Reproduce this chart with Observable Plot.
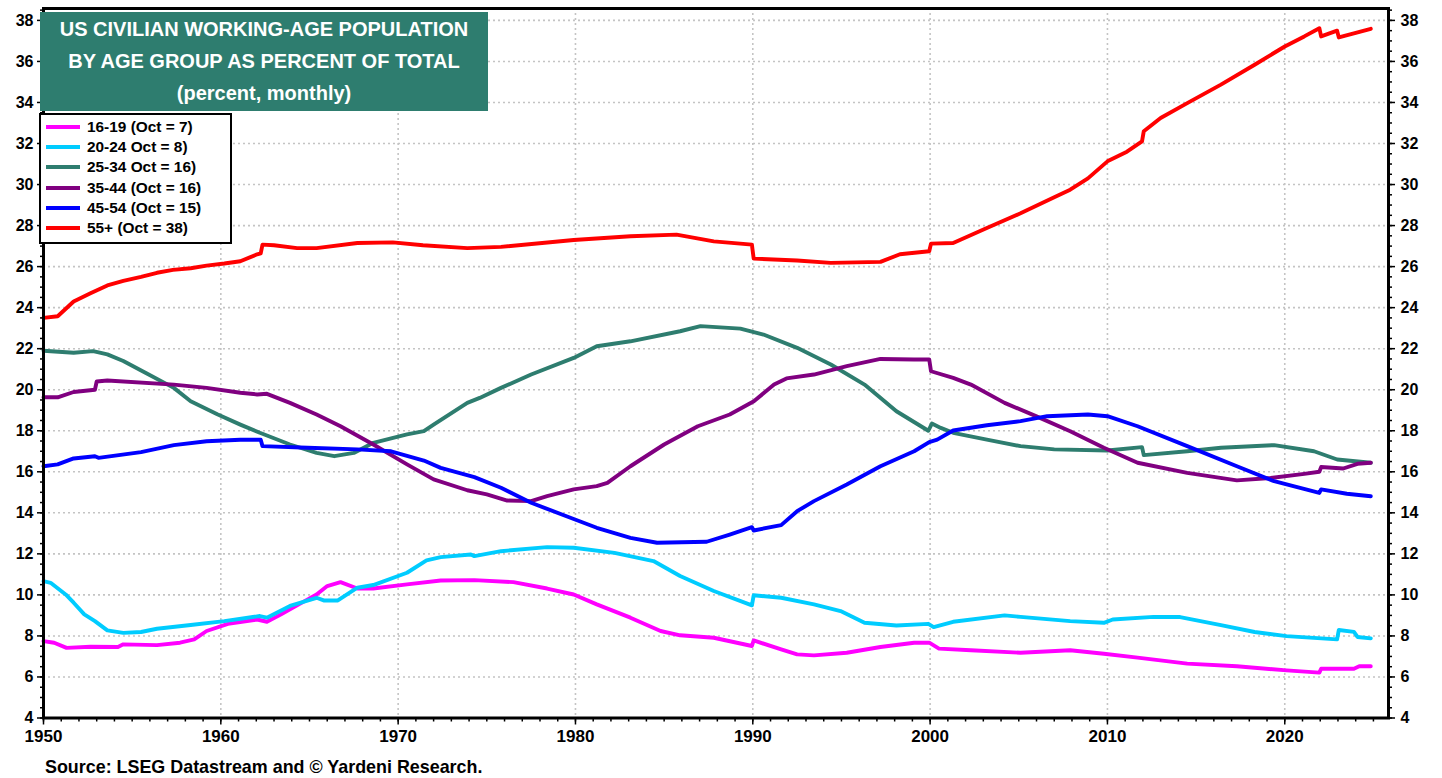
<!DOCTYPE html>
<html><head><meta charset="utf-8">
<script src="https://cdn.jsdelivr.net/npm/d3@7"></script>
<script src="https://cdn.jsdelivr.net/npm/@observablehq/plot@0.6"></script>
<style>
html,body{margin:0;padding:0;background:#fff;}
#wrap{position:relative;width:1442px;height:778px;font-family:"Liberation Sans",Arial,sans-serif;font-weight:bold;color:#000;}
#chart{position:absolute;left:0;top:0;}
#title{position:absolute;left:40px;top:12px;width:448px;height:99px;background:#2E7D6F;color:#fff;text-align:center;font-size:20px;line-height:32px;padding-top:1px;box-sizing:border-box;}
#legend{position:absolute;left:39px;top:113px;width:193px;height:131px;border:2px solid #000;background:#fff;box-sizing:border-box;}
.row{position:absolute;left:0;height:20px;width:190px;}
.sw{position:absolute;left:5px;top:8px;width:34px;height:4px;}
.lab{position:absolute;left:46px;top:0;line-height:20px;font-size:15.4px;white-space:nowrap;}
#source{position:absolute;left:45px;top:756px;font-size:17.9px;line-height:22px;white-space:nowrap;}
</style></head>
<body>
<div id="wrap">
  <div id="chart"></div>
  <div id="title">US CIVILIAN WORKING-AGE POPULATION<br>BY AGE GROUP AS PERCENT OF TOTAL<br>(percent, monthly)</div>
  <div id="legend"></div>
  <div id="source">Source: LSEG Datastream and © Yardeni Research.</div>
</div>
<script>
// ---- series (year, percent) ----
const s1619 = [[1950.0,7.75],[1950.6,7.67],[1951.3,7.42],[1952.65,7.47],[1954.2,7.46],[1954.5,7.59],[1956.4,7.55],[1957.7,7.67],[1958.5,7.83],[1959.2,8.24],[1960.4,8.59],[1962.05,8.8],[1962.6,8.69],[1963.4,9.05],[1964.9,9.78],[1965.4,10.02],[1966.0,10.43],[1966.75,10.62],[1967.7,10.31],[1968.6,10.31],[1970.5,10.51],[1972.4,10.7],[1974.3,10.72],[1976.5,10.62],[1978.4,10.31],[1979.9,10.02],[1981.2,9.54],[1983.1,8.89],[1984.8,8.24],[1985.9,8.03],[1987.8,7.91],[1989.95,7.51],[1990.05,7.78],[1991.6,7.34],[1992.5,7.1],[1993.45,7.05],[1995.3,7.18],[1997.2,7.46],[1999.1,7.67],[1999.95,7.67],[2000.5,7.38],[2002.3,7.3],[2005.1,7.18],[2007.9,7.3],[2009.8,7.13],[2011.7,6.94],[2014.5,6.65],[2017.3,6.52],[2020.1,6.32],[2021.95,6.21],[2022.05,6.4],[2023.9,6.4],[2024.2,6.52],[2024.85,6.52]];
const s2024 = [[1950.0,10.67],[1950.4,10.59],[1951.25,10.02],[1951.7,9.62],[1952.3,9.05],[1952.9,8.72],[1953.6,8.27],[1954.5,8.15],[1955.5,8.19],[1956.4,8.35],[1958.3,8.53],[1960.2,8.72],[1962.2,8.97],[1962.6,8.89],[1963.9,9.46],[1965.4,9.86],[1965.8,9.73],[1966.6,9.73],[1967.7,10.35],[1968.6,10.48],[1970.5,11.08],[1971.6,11.68],[1972.4,11.84],[1974.1,11.97],[1974.3,11.89],[1975.8,12.13],[1978.4,12.33],[1979.9,12.3],[1982.2,12.05],[1984.4,11.65],[1985.9,10.92],[1987.8,10.19],[1989.95,9.49],[1990.05,9.98],[1991.6,9.86],[1993.45,9.54],[1994.95,9.21],[1996.3,8.64],[1998.1,8.51],[1999.9,8.59],[2000.2,8.43],[2001.3,8.69],[2004.2,9.0],[2005.1,8.93],[2007.9,8.72],[2009.8,8.64],[2010.3,8.8],[2012.6,8.93],[2014.1,8.92],[2016.4,8.53],[2018.3,8.19],[2020.1,7.99],[2022.95,7.83],[2023.05,8.29],[2023.9,8.2],[2024.1,7.95],[2024.85,7.88]];
const s2534 = [[1950.0,21.9],[1951.7,21.8],[1952.8,21.88],[1953.6,21.72],[1954.5,21.4],[1955.8,20.8],[1957.35,20.09],[1958.3,19.44],[1959.8,18.8],[1961.1,18.3],[1962.2,17.9],[1963.9,17.33],[1965.4,16.92],[1966.4,16.76],[1967.5,16.92],[1968.6,17.41],[1970.5,17.82],[1971.45,17.98],[1972.0,18.3],[1973.9,19.36],[1974.6,19.6],[1975.8,20.09],[1977.5,20.74],[1979.9,21.55],[1981.2,22.12],[1983.1,22.36],[1985.9,22.85],[1987.05,23.1],[1989.3,22.98],[1990.6,22.69],[1992.5,22.04],[1994.4,21.23],[1996.3,20.25],[1998.1,18.95],[1999.9,18.0],[2000.1,18.35],[2000.6,18.14],[2001.3,17.9],[2003.2,17.57],[2005.1,17.25],[2007.0,17.09],[2010.0,17.04],[2011.95,17.2],[2012.05,16.81],[2014.5,17.0],[2016.4,17.17],[2019.4,17.3],[2021.65,17.0],[2022.96,16.6],[2024.85,16.44]];
const s3544 = [[1950.0,19.63],[1950.8,19.63],[1951.7,19.89],[1952.9,20.0],[1953.0,20.4],[1953.6,20.45],[1957.35,20.25],[1959.2,20.09],[1961.1,19.85],[1962.05,19.77],[1962.6,19.8],[1963.9,19.36],[1965.4,18.79],[1966.75,18.22],[1968.6,17.33],[1970.5,16.36],[1972.0,15.63],[1973.9,15.1],[1975.0,14.9],[1976.15,14.6],[1977.5,14.57],[1978.4,14.81],[1979.9,15.14],[1981.2,15.3],[1981.8,15.46],[1983.1,16.27],[1985.0,17.33],[1986.9,18.22],[1988.7,18.79],[1990.06,19.44],[1991.2,20.25],[1991.9,20.55],[1993.45,20.74],[1995.3,21.15],[1997.2,21.5],[1999.1,21.47],[1999.95,21.47],[2000.05,20.9],[2001.3,20.58],[2002.3,20.25],[2004.2,19.36],[2006.0,18.7],[2007.9,17.98],[2009.8,17.17],[2011.7,16.44],[2014.5,15.95],[2017.3,15.58],[2019.2,15.7],[2021.1,15.9],[2021.95,16.0],[2022.05,16.23],[2023.3,16.16],[2024.1,16.39],[2024.85,16.44]];
const s4554 = [[1950.0,16.27],[1950.8,16.36],[1951.7,16.65],[1952.9,16.76],[1953.1,16.68],[1955.5,16.96],[1957.35,17.3],[1959.2,17.49],[1961.1,17.56],[1962.25,17.56],[1962.35,17.25],[1964.9,17.17],[1967.7,17.09],[1969.6,17.0],[1971.45,16.55],[1972.4,16.19],[1974.3,15.74],[1975.8,15.22],[1977.5,14.49],[1979.9,13.7],[1981.2,13.27],[1983.1,12.78],[1984.6,12.54],[1987.4,12.59],[1988.7,12.94],[1989.95,13.3],[1990.05,13.14],[1991.6,13.4],[1992.5,14.08],[1993.45,14.57],[1995.3,15.38],[1997.2,16.27],[1999.1,17.0],[1999.95,17.45],[2000.4,17.57],[2001.3,18.01],[2003.2,18.27],[2005.1,18.47],[2006.6,18.71],[2008.9,18.79],[2010.0,18.71],[2011.7,18.22],[2014.5,17.25],[2017.3,16.27],[2019.4,15.54],[2021.95,14.97],[2022.05,15.14],[2023.5,14.93],[2024.85,14.81]];
const s55 = [[1950.0,23.5],[1950.8,23.58],[1951.7,24.3],[1952.65,24.7],[1953.6,25.08],[1954.5,25.3],[1955.5,25.5],[1956.4,25.7],[1957.3,25.84],[1958.3,25.92],[1959.2,26.05],[1960.2,26.15],[1961.1,26.26],[1962.05,26.6],[1962.25,26.65],[1962.35,27.07],[1963.0,27.04],[1964.3,26.9],[1965.4,26.9],[1967.7,27.15],[1969.7,27.18],[1971.4,27.04],[1973.9,26.9],[1975.8,26.96],[1979.9,27.3],[1983.1,27.48],[1985.7,27.56],[1987.8,27.23],[1989.95,27.07],[1990.05,26.39],[1992.5,26.3],[1994.4,26.18],[1997.2,26.23],[1998.3,26.6],[1999.95,26.75],[2000.05,27.12],[2001.3,27.15],[2003.2,27.88],[2005.1,28.6],[2007.0,29.38],[2007.9,29.75],[2008.9,30.3],[2010.0,31.13],[2011.1,31.6],[2011.95,32.1],[2012.05,32.6],[2013.0,33.24],[2014.5,33.97],[2016.4,34.87],[2018.3,35.84],[2020.0,36.73],[2021.1,37.22],[2021.95,37.62],[2022.05,37.22],[2022.95,37.5],[2023.05,37.17],[2024.85,37.59]];

const seriesNames = ["16-19 (Oct = 7)", "20-24 Oct = 8)", "25-34 Oct = 16)", "35-44 (Oct = 16)", "45-54 (Oct = 15)", "55+ (Oct = 38)"];
const seriesColors = ["#FF00FF", "#00CCFF", "#2E7D6F", "#800080", "#0000FF", "#FF0000"];
const seriesData = [s1619, s2024, s2534, s3544, s4554, s55];

const xMajorTicks = [1950, 1960, 1970, 1980, 1990, 2000, 2010, 2020];
const yMajorTicks = [4, 6, 8, 10, 12, 14, 16, 18, 20, 22, 24, 26, 28, 30, 32, 34, 36, 38];
const xMinorTicks = d3.range(1950, 2026, 1);
const yMinorTicks = d3.range(4, 38.6, 0.5);

const rows = [];
seriesData.forEach((arr, i) => arr.forEach(([year, value]) => rows.push({series: seriesNames[i], year, value})));

const gridStyle = {stroke: "#c4c4c4", strokeOpacity: 1, strokeWidth: 1.6, strokeDasharray: "2,3"};

const chart = Plot.plot({
  width: 1442,
  height: 778,
  marginLeft: 43,
  marginRight: 54,
  marginTop: 8,
  marginBottom: 60.5,
  x: {domain: [1950, 2025.85], label: null},
  y: {domain: [4, 38.58], label: null},
  color: {domain: seriesNames, range: seriesColors},
  style: {fontFamily: "'Liberation Sans', Arial, sans-serif", fontWeight: "bold", background: "#fff", color: "#000", overflow: "visible"},
  marks: [
    Plot.gridX(xMajorTicks.filter(d => d > 1950), gridStyle),
    Plot.gridY(yMajorTicks.filter(d => d > 4), gridStyle),
    Plot.line(rows, {x: "year", y: "value", z: "series", stroke: "series", strokeWidth: 3.9, strokeLinejoin: "round", strokeLinecap: "round"}),
    Plot.axisX(xMinorTicks, {anchor: "bottom", tickSize: 4, strokeWidth: 1.5, tickFormat: () => "", label: null}),
    Plot.axisX(xMajorTicks, {anchor: "bottom", tickSize: 7, strokeWidth: 1.5, tickPadding: 5, fontSize: 17, tickFormat: d => String(d), label: null}),
    Plot.axisY(yMinorTicks, {anchor: "left", tickSize: 3, strokeWidth: 1.5, tickFormat: () => "", label: null}),
    Plot.axisY(yMajorTicks, {anchor: "left", tickSize: 6, strokeWidth: 1.5, tickPadding: 4, fontSize: 16, tickFormat: d => String(d), label: null}),
    Plot.axisY(yMinorTicks, {anchor: "right", tickSize: 3, strokeWidth: 1.5, tickFormat: () => "", label: null}),
    Plot.axisY(yMajorTicks, {anchor: "right", tickSize: 6, strokeWidth: 1.5, tickPadding: 6, fontSize: 16, tickFormat: d => String(d), label: null}),
    Plot.frame({stroke: "#000", strokeWidth: 3})
  ]
});
document.getElementById("chart").appendChild(chart);

// legend from the same arrays
const legend = document.getElementById("legend");
seriesNames.forEach((name, i) => {
  const row = document.createElement("div");
  row.className = "row";
  row.style.top = (2 + i * 20.2) + "px";
  const sw = document.createElement("div");
  sw.className = "sw";
  sw.style.background = seriesColors[i];
  const lab = document.createElement("div");
  lab.className = "lab";
  lab.textContent = name;
  row.appendChild(sw); row.appendChild(lab);
  legend.appendChild(row);
});
</script>
</body></html>
